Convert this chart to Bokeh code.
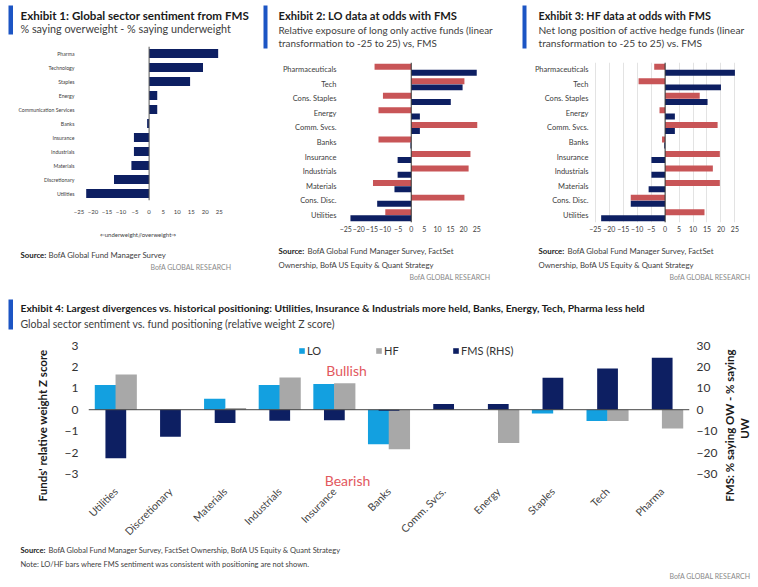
import math
from bokeh.plotting import figure
from bokeh.models import (Label, Span, Range1d, FactorRange, LinearAxis, Legend, LegendItem,
                          BoxAnnotation, ColumnDataSource, FixedTicker)
from bokeh.transform import dodge
from bokeh.layouts import column, row
from bokeh.embed import file_html
from bokeh.resources import INLINE

# ---------------- data ----------------
cats1 = ["Pharma", "Technology", "Staples", "Energy", "Communication Services", "Banks",
         "Insurance", "Industrials", "Materials", "Discretionary", "Utilities"]
fms1 = [24.6, 19.2, 14.6, 2.9, 2.9, -0.7, -5.4, -5.4, -6.3, -12.5, -22.4]

cats23 = ["Pharmaceuticals", "Tech", "Cons. Staples", "Energy", "Comm. Svcs.", "Banks",
          "Insurance", "Industrials", "Materials", "Cons. Disc.", "Utilities"]
lo2 = [-14.0, 20.3, -10.8, -12.5, 25.2, -12.5, 22.6, 21.9, -14.6, 20.3, -9.9]
fms2 = [25.0, 19.6, 15.1, 3.3, 3.3, -0.3, -5.2, -5.2, -6.4, -13.0, -23.2]
hf3 = [-3.9, -9.5, 12.4, -2.0, 18.8, -1.1, 19.6, 17.1, 19.6, -12.3, 14.1]
fms3 = [25.0, 20.0, 15.2, 3.5, 3.5, -0.3, -4.9, -4.9, -5.9, -12.3, -22.9]

cats4 = ["Utilities", "Discretionary", "Materials", "Industrials", "Insurance", "Banks",
         "Comm. Svcs.", "Energy", "Staples", "Tech", "Pharma"]
lo4 = [1.15, None, 0.51, 1.15, 1.20, -1.62, None, None, -0.18, -0.53, None]
hf4 = [1.65, None, 0.08, 1.51, 1.24, -1.85, None, -1.55, None, -0.53, -0.88]
fms4 = [-22.7, -12.6, -6.2, -5.2, -4.9, -0.5, 2.7, 2.7, 14.9, 19.3, 24.3]

ticks_pm25 = [-25, -20, -15, -10, -5, 0, 5, 10, 15, 20, 25]
ticks_z = [-3, -2, -1, 0, 1, 2, 3]
ticks_rhs = [-30, -20, -10, 0, 10, 20, 30]

# ---------------- style ----------------
FONT = "Lato"
NAVY = "#0d1f62"
RED = "#c85557"
LBLUE = "#13a0e0"
GRAY = "#a8a8a8"
ACCENT = "#1c55c4"
TXT = "#1a1a1a"
SUB = "#404040"
LIGHT = "#8a8a8a"


def nan(v):
    return [float("nan") if x is None else x for x in v]


def text_fig(w, h):
    p = figure(width=w, height=h, output_backend="svg", toolbar_location=None,
               x_axis_type=None, y_axis_type=None, min_border=0,
               x_range=Range1d(0, 1), y_range=Range1d(0, 1))
    p.outline_line_color = None
    p.xgrid.grid_line_color = None
    p.ygrid.grid_line_color = None
    p.background_fill_color = "white"
    p.border_fill_color = "white"
    p._h = h
    return p


def plot_fig(w, h, fl, ft, fw, fh, **kw):
    p = figure(width=w, height=h, output_backend="svg", toolbar_location=None,
               min_border_left=fl, min_border_top=ft, min_border_right=w - fl - fw,
               min_border_bottom=h - ft - fh, **kw)
    p.outline_line_color = None
    p.background_fill_color = "white"
    p.border_fill_color = "white"
    p.xgrid.grid_line_color = None
    p.ygrid.grid_line_color = None
    return p


def t(p, cx, cy, text, size, color=TXT, style="normal", align="left", angle=0.0):
    # cx, cy: pixel position inside a text-only figure, measured from its top-left corner
    p.add_layout(Label(x=cx, y=p._h - cy, x_units="screen", y_units="screen", text=text,
                       text_font=FONT, text_font_size=f"{size}px", text_color=color,
                       text_font_style=style, text_align=align, text_baseline="middle",
                       angle=angle))


def accent(p, x0, x1, y0, y1):
    p.add_layout(BoxAnnotation(left=x0, right=x1, top=p._h - y0, bottom=p._h - y1,
                               left_units="screen", right_units="screen",
                               top_units="screen", bottom_units="screen",
                               fill_color=ACCENT, fill_alpha=1, line_color=None))


def clean_axis(ax, size, color=SUB):
    ax.axis_line_color = None
    ax.major_tick_line_color = None
    ax.minor_tick_line_color = None
    ax.major_tick_out = 0
    ax.major_tick_in = 0
    ax.minor_tick_out = 0
    ax.minor_tick_in = 0
    ax.major_label_text_font = FONT
    ax.major_label_text_color = color
    ax.major_label_text_font_size = f"{size}px"


def stack(*figs):
    # each figure wrapped on its own so that Bokeh does not align their frames
    return column(*[column(f, spacing=0) for f in figs], spacing=0)


# ---------------- Exhibit 1 ----------------
h1 = text_fig(262, 44)
accent(h1, 8, 12.5, 5, 34)
t(h1, 20, 15, "Exhibit 1: Global sector sentiment from FMS", 11.6, TXT, "bold")
t(h1, 20, 27.5, "% saying overweight - % saying underweight", 10.8, SUB)

p1 = plot_fig(262, 178, 77, 2, 146, 154,
              y_range=FactorRange(factors=cats1[::-1], range_padding=0),
              x_range=Range1d(-25.5, 26.5))
src1 = ColumnDataSource(dict(cat=cats1, val=fms1))
p1.hbar(y="cat", right="val", left=0, height=0.66, source=src1, fill_color=NAVY, line_color=None)
p1.add_layout(Span(location=0, dimension="height", line_color="#555555", line_width=1))
clean_axis(p1.xaxis[0], 6)
clean_axis(p1.yaxis[0], 5.2)
p1.xaxis.ticker = FixedTicker(ticks=ticks_pm25)
p1.xaxis.major_label_standoff = 9
p1.yaxis.major_label_standoff = 3

f1 = text_fig(262, 70)
t(f1, 137.5, 12, "\u21d0underweight//overweight\u21d2", 6, SUB, align="center")
t(f1, 20, 32, "Source:", 7.8, TXT, "bold")
t(f1, 48, 32, "BofA Global Fund Manager Survey", 7.8, SUB)
t(f1, 231, 44.7, "BofA GLOBAL RESEARCH", 7, LIGHT, align="right")

col1 = stack(h1, p1, f1)


# ---------------- Exhibits 2 & 3 ----------------
def pair_panel(W, L, FW, xr, vals_red, vals_blue, title, sub1, sub2, acc_x, tx, grid, rx, tsize, ssize):
    head = text_fig(W, 58)
    accent(head, acc_x, acc_x + 4, 5, 48)
    t(head, tx, 15, title, tsize, TXT, "bold")
    t(head, tx, 29.3, sub1, ssize, SUB)
    t(head, tx, 42.7, sub2, ssize, SUB)

    p = plot_fig(W, 180, L, 4, FW, 160,
                 y_range=FactorRange(factors=cats23[::-1], range_padding=0),
                 x_range=Range1d(*xr))
    src = ColumnDataSource(dict(cat=cats23, red=vals_red, blue=vals_blue))
    if grid:
        p.xgrid.grid_line_color = "#e3e3e3"
        p.xgrid.grid_line_width = 1
    p.hbar(y=dodge("cat", 0.21, range=p.y_range), right="red", left=0, height=0.41,
           source=src, fill_color=RED, line_color=None)
    p.hbar(y=dodge("cat", -0.21, range=p.y_range), right="blue", left=0, height=0.41,
           source=src, fill_color=NAVY, line_color=None)
    p.add_layout(Span(location=0, dimension="height", line_color="#333333", line_width=1))
    clean_axis(p.xaxis[0], 7)
    clean_axis(p.yaxis[0], 7.5)
    p.xaxis.ticker = FixedTicker(ticks=ticks_pm25)
    p.xaxis.major_label_standoff = 3
    p.yaxis.major_label_standoff = 4

    foot = text_fig(W, 54)
    t(foot, tx, 12.7, "Source:", 7.8, TXT, "bold")
    t(foot, tx + 29, 12.7, "BofA Global Fund Manager Survey, FactSet", 7.8, SUB)
    t(foot, tx, 26, "Ownership, BofA US Equity & Quant Strategy", 7.8, SUB)
    t(foot, rx, 38, "BofA GLOBAL RESEARCH", 7, LIGHT, align="right")
    return stack(head, p, foot)


col2 = pair_panel(258, 78, 142, (-27.0, 27.2), lo2, fms2,
                  "Exhibit 2: LO data at odds with FMS",
                  "Relative exposure of long only active funds (linear",
                  "transformation to -25 to 25) vs, FMS", 1, 16, False, 228, 11.2, 9.9)
col3 = pair_panel(238, 72, 148, (-26.0, 27.0), hf3, fms3,
                  "Exhibit 3: HF data at odds with FMS",
                  "Net long position of active hedge funds (linear",
                  "transformation to -25 to 25) vs. FMS", 2, 18, True, 230, 10.8, 10.2)

# ---------------- Exhibit 4 ----------------
h4 = text_fig(758, 41)
accent(h4, 8, 12.5, 7, 37)
t(h4, 20, 15.3,
  "Exhibit 4: Largest divergences vs. historical positioning: Utilities, Insurance & Industrials more held, Banks, Energy, Tech, Pharma less held",
  10.3, TXT, "bold")
t(h4, 20, 31.3, "Global sector sentiment vs. fund positioning (relative weight Z score)", 10.5, SUB)

EXT = 15.0 / 22.0  # extra room below -3 so that the "Bearish" note sits inside the frame
l4 = text_fig(58, 211)
t(l4, 42, 92, "Funds' relative weight Z score", 11.5, TXT, "bold", align="center", angle=math.pi / 2)

p4 = plot_fig(662, 211, 30, 12, 602, 146,
              x_range=FactorRange(factors=cats4, range_padding=0),
              y_range=Range1d(-3 - EXT, 3))
p4.extra_y_ranges = {"rhs": Range1d(-30 - 10 * EXT, 30)}
src4 = ColumnDataSource(dict(cat=cats4, lo=nan(lo4), hf=nan(hf4), fms=fms4))
r_lo = p4.vbar(x=dodge("cat", -0.19, range=p4.x_range), top="lo", bottom=0, width=0.39,
               source=src4, fill_color=LBLUE, line_color=None)
r_hf = p4.vbar(x=dodge("cat", 0.19, range=p4.x_range), top="hf", bottom=0, width=0.39,
               source=src4, fill_color=GRAY, line_color=None)
r_fms = p4.vbar(x="cat", top="fms", bottom=0, width=0.38, source=src4,
                fill_color=NAVY, line_color=None, y_range_name="rhs")
p4.add_layout(Span(location=0, dimension="width", line_color="#444444", line_width=1))
rax = LinearAxis(y_range_name="rhs")
p4.add_layout(rax, "right")
clean_axis(p4.yaxis[0], 12, "#333333")
clean_axis(rax, 12, "#333333")
clean_axis(p4.xaxis[0], 10.5, "#444444")
p4.yaxis[0].ticker = FixedTicker(ticks=ticks_z)
p4.yaxis[0].major_label_standoff = 10
rax.ticker = FixedTicker(ticks=ticks_rhs)
rax.major_label_standoff = 7
p4.xaxis.major_label_orientation = math.pi / 4
p4.xaxis.major_label_standoff = 1


def add_leg(r, label, x):
    p4.add_layout(Legend(items=[LegendItem(label=label, renderers=[r])], location=(x, 131),
                         orientation="horizontal", border_line_color=None,
                         background_fill_alpha=0, padding=0, margin=0, spacing=0,
                         glyph_width=7, glyph_height=7, label_standoff=2, label_height=12,
                         label_text_font=FONT, label_text_font_size="11px",
                         label_text_color="#333333"))


add_leg(r_lo, "LO", 298 - 88)
add_leg(r_hf, "HF", 375 - 88)
add_leg(r_fms, "FMS (RHS)", 452 - 88)
p4.add_layout(Label(x=258, y=117.7, x_units="screen", y_units="screen", text="Bullish",
                    text_font=FONT, text_font_size="14px", text_color="#e2585e",
                    text_align="center", text_baseline="middle"))
p4.add_layout(Label(x=259, y=8, x_units="screen", y_units="screen", text="Bearish",
                    text_font=FONT, text_font_size="14px", text_color="#e2585e",
                    text_align="center", text_baseline="middle"))

r4 = text_fig(38, 211)
t(r4, 9, 92, "FMS: % saying OW - % saying", 11.5, TXT, "bold", align="center", angle=math.pi / 2)
t(r4, 23.5, 95, "UW", 11.5, TXT, "bold", align="center", angle=math.pi / 2)

f4 = text_fig(758, 43)
t(f4, 20, 6, "Source:", 7.5, TXT, "bold")
t(f4, 48, 6, "BofA Global Fund Manager Survey, FactSet Ownership,  BofA US Equity & Quant Strategy", 7.5, SUB)
t(f4, 20, 20, "Note: LO/HF bars where FMS sentiment was consistent  with positioning are not shown.", 7.5, SUB)
t(f4, 750, 31, "BofA GLOBAL RESEARCH", 7, LIGHT, align="right")

top = row(col1, col2, col3, spacing=0)
mid = row(column(l4), column(p4), column(r4), spacing=0)
layout = column(top, column(h4), mid, column(f4), spacing=0)
open("out.html", "w").write(file_html(layout, INLINE))
